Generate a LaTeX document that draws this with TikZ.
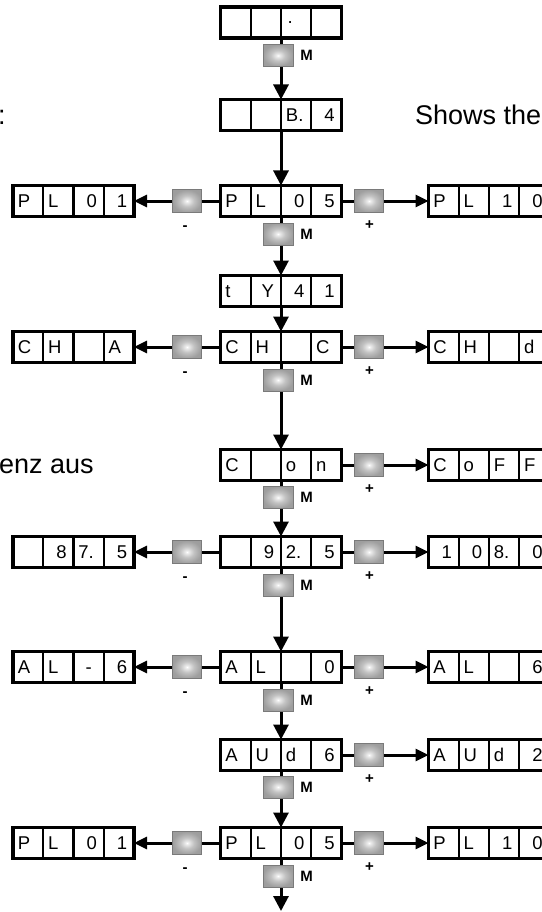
\documentclass[tikz,border=0pt]{standalone}
\usepackage{fontspec}
\setmainfont{Liberation Sans}
\usetikzlibrary{arrows.meta,calc}

% grey push-button face: light centre fading to mid grey
\pgfdeclareradialshading{keyshade}{\pgfpoint{0bp}{0bp}}{%
  color(0bp)=(white); color(3bp)=(black!8); color(12bp)=(black!24);
  color(20bp)=(black!33); color(25bp)=(black!38); color(50bp)=(black!40)}

\tikzset{
  dbox/.style={draw, line width=3.2pt, fill=white, minimum width=121pt,
    minimum height=31pt, inner sep=0pt, outer sep=0pt},
  divider/.style={line width=2.2pt},
  key/.style={draw=black!52, line width=1pt, shading=keyshade,
    minimum width=29pt, minimum height=23pt, inner sep=0pt, outer sep=0pt},
  mkey/.style={key, minimum width=30pt, minimum height=22pt},
  vconn/.style={line width=3pt, -{Triangle[width=15pt,length=15pt]}},
  hconn/.style={line width=3pt, -{Triangle[width=12pt,length=13pt]}},
  cell/.style={font=\fontsize{18.5}{18.5}\selectfont, inner sep=0pt},
  al l/.style={anchor=base west, xshift=-10.4pt},
  al r/.style={anchor=base east, xshift=8.4pt},
  al c/.style={anchor=base},
  keylabel/.style={font=\fontsize{15}{15}\selectfont\bfseries, inner sep=0pt},
  prose/.style={font=\fontsize{27}{27}\selectfont, inner sep=0pt, anchor=base west},
}

% four-digit display: name, x, y, list of align/character
\newcommand\dispbox[4]{%
  \node[dbox] (#1) at (#2,#3) {};
  \foreach \k in {1,2,3}
    \draw[divider] ($(#1.north west)+(\k*30.25,0)$) -- ($(#1.south west)+(\k*30.25,0)$);
  \foreach \al/\tx [count=\i] in {#4}
    \node[cell, al \al] (#1-c\i) at ($(#1.west)+(\i*30.25-15.125,6.6)$) {\tx};
}

\begin{document}
\begin{tikzpicture}[x=1pt,y=-1pt]
\useasboundingbox (0,0) rectangle (541,912);

% running text around the chart
\node[prose] (colon) at (-2,125) {:};
\node[prose] (shows) at (415,125) {Shows the};
\node[prose] (aus) at (-1,473) {enz aus};

\coordinate (tail) at (281,911);

\dispbox{top}{281}{22.5}{l/{},l/{},l/{},l/{}}
\node[cell, anchor=base west] (topdot) at (287.5,23.6) {.};
\dispbox{b4}{281}{115}{l/{},l/{},l/B.,r/4}

\dispbox{pl05a}{281}{201}{l/P,l/L,r/0,r/5}
\dispbox{pl01a}{73.5}{201}{l/P,l/L,r/0,r/1}
\dispbox{pl10a}{489}{201}{l/P,l/L,r/1,r/0}

\dispbox{ty}{281}{291}{l/t,r/Y,r/4,r/1}

\dispbox{chc}{281}{347}{l/C,l/H,l/{},l/C}
\dispbox{cha}{73.5}{347}{l/C,l/H,l/{},l/A}
\dispbox{chd}{489}{347}{l/C,l/H,l/{},l/d}

\dispbox{con}{281}{465}{l/C,l/{},l/o,l/n}
\dispbox{coff}{489}{465}{l/C,l/o,l/F,l/F}

\dispbox{fmid}{281}{552}{l/{},r/9,l/2.,r/5}
\dispbox{flow}{73.5}{552}{l/{},r/8,l/7.,r/5}
\dispbox{fhigh}{489}{552}{r/1,r/0,l/8.,r/0}

\dispbox{al0}{281}{667}{l/A,l/L,l/{},r/0}
\dispbox{alm}{73.5}{667}{l/A,l/L,c/-,r/6}
\dispbox{alp}{489}{667}{l/A,l/L,l/{},r/6}

\dispbox{aud6}{281}{755}{l/A,l/U,l/d,r/6}
\dispbox{aud2}{489}{755}{l/A,l/U,l/d,r/2}

\dispbox{pl05b}{281}{843}{l/P,l/L,r/0,r/5}
\dispbox{pl01b}{73.5}{843}{l/P,l/L,r/0,r/1}
\dispbox{pl10b}{489}{843}{l/P,l/L,r/1,r/0}

% main downward path
\draw[vconn] (top.south) -- (b4.north);
\draw[vconn] (b4.south) -- (pl05a.north);
\draw[vconn] (pl05a.south) -- (ty.north);
\draw[vconn] (ty.south) -- (chc.north);
\draw[vconn] (chc.south) -- (con.north);
\draw[vconn] (con.south) -- (fmid.north);
\draw[vconn] (fmid.south) -- (al0.north);
\draw[vconn] (al0.south) -- (aud6.north);
\draw[vconn] (aud6.south) -- (pl05b.north);
\draw[vconn] (pl05b.south) -- (tail);

% side branches
\draw[hconn] (pl05a.west) -- (pl01a.east);
\draw[hconn] (pl05a.east) -- (pl10a.west);
\draw[hconn] (chc.west) -- (cha.east);
\draw[hconn] (chc.east) -- (chd.west);
\draw[hconn] (con.east) -- (coff.west);
\draw[hconn] (fmid.west) -- (flow.east);
\draw[hconn] (fmid.east) -- (fhigh.west);
\draw[hconn] (al0.west) -- (alm.east);
\draw[hconn] (al0.east) -- (alp.west);
\draw[hconn] (aud6.east) -- (aud2.west);
\draw[hconn] (pl05b.west) -- (pl01b.east);
\draw[hconn] (pl05b.east) -- (pl10b.west);

% M keys on the main path
\foreach \n/\y in {m0/55.5, m2/234, m4/380, m5/497.5, m6/585, m7/700, m8/787, m9/876}{
  \node[mkey] (\n) at (278,\y) {};
  \node[keylabel] (\n-lbl) at (306.5,\y) {M};
}

% minus keys
\foreach \n/\y in {k2/201, k4/347, k6/552, k7/667, k9/843}{
  \node[key] (\n) at (187,\y) {};
  \node[keylabel] (\n-lbl) at (185,\y+27) {-};
}

% plus keys
\foreach \n/\y in {p2/201, p4/347, p5/465, p6/552, p7/667, p8/755, p9/843}{
  \node[key] (\n) at (369,\y) {};
  \node[keylabel] (\n-lbl) at (369.5,\y+24) {+};
}
\end{tikzpicture}
\end{document}
